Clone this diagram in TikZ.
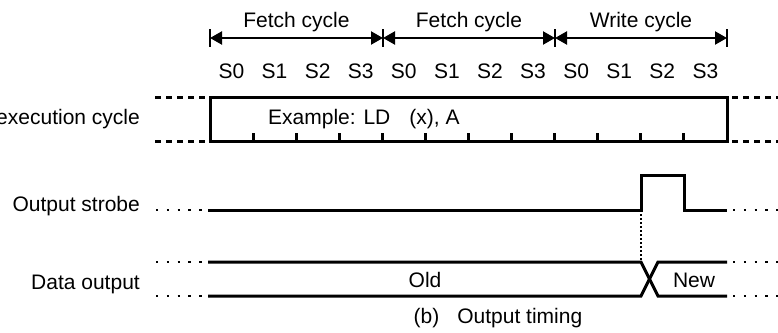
\documentclass[tikz,border=0pt]{standalone}
\usepackage{fontspec}
\setmainfont{Liberation Sans}
\usetikzlibrary{arrows.meta,calc,positioning}
\tikzset{%
	txt/.style      = {inner sep=0pt, font=\fontsize{21}{25}\selectfont}, % Text
	signal/.style   = {line width=3pt}, % Signal line
	bar/.style      = {line width=2.4pt},
	span/.style     = {line width=2.2pt, {Triangle[length=12pt,width=13pt]}-{Triangle[length=12pt,width=13pt]}},
	extend/.style   = {line width=3pt, dash pattern=on 5.5pt off 5.5pt}, % Dashed extension
	dotline/.style  = {line width=2.4pt, dash pattern=on 2.4pt off 8.4pt}, % Dotted extension
	vdot/.style     = {line width=2pt, dash pattern=on 1.6pt off 2.4pt},
}

\begin{document}
\begin{tikzpicture}[x=1pt, y=-1pt]
	\useasboundingbox (0,0) rectangle (778,332);
	% cycle borders
	\coordinate (b0) at (210,38);
	\coordinate (b1) at (383,38);
	\coordinate (b2) at (555,38);
	\coordinate (b3) at (727,38);
	\foreach \b in {b0,b1,b2,b3}
		\draw[bar] ($(\b)+(0,-9)$) -- ($(\b)+(0,9)$);
	\draw[span] (b0) -- node[txt,above=5pt] (fetch1) {Fetch cycle} (b1);
	\draw[span] (b1) -- node[txt,above=5pt] (fetch2) {Fetch cycle} (b2);
	\draw[span] (b2) -- node[txt,above=5pt] (write) {Write cycle} (b3);
	
	% states
	\foreach \n [count=\i from 0] in {S0,S1,S2,S3,S0,S1,S2,S3,S0,S1,S2,S3}
		\node[txt] (s\i) at (231.5+43.08*\i,71) {\n};
	
	% execution cycle
	\node[txt,anchor=east] (exec) at (140,119) {execution cycle};
	\coordinate (et0) at (210,97.5);
	\coordinate (eb0) at (210,141);
	\coordinate (et1) at (727,97.5);
	\coordinate (eb1) at (727,141);
	\draw[signal] (eb0) -- (et0) -- (et1) -- (eb1) -- cycle;
	\foreach \i in {1,...,11}
		\draw[signal] (210+43.08*\i,141) -- ++(0,-8);
	\node[txt,anchor=west] (ex) at (268,119) {Example: LD\hspace{19pt}(x), A};
	\draw[extend] (155,97.5) -- (205,97.5);
	\draw[extend] (155,141) -- (205,141);
	\draw[extend] (732,97.5) -- (778,97.5);
	\draw[extend] (732,141) -- (778,141);
	
	% output strobe
	\node[txt,anchor=east] (strobe) at (140,206) {Output strobe};
	\coordinate (st0) at (208,210);
	\coordinate (rise) at (641,210);
	\coordinate (fall) at (684,210);
	\coordinate (st1) at (727,210);
	\draw[signal] (st0) -- (rise) -- ++(0,-35) -| (fall) -- (st1);
	\draw[dotline] (156,210) -- (203,210);
	\draw[dotline] (733,210) -- (778,210);
	
	% data output
	\node[txt,anchor=east] (data) at (140,284) {Data output};
	\coordinate (dt0) at (208,262);
	\coordinate (db0) at (208,296);
	\coordinate (xt0) at (641,262);
	\coordinate (xb0) at (641,296);
	\coordinate (xt1) at (658,262);
	\coordinate (xb1) at (658,296);
	\coordinate (dt1) at (727,262);
	\coordinate (db1) at (727,296);
	\draw[signal] (dt0) -- (xt0) -- (xb1) -- (db1);
	\draw[signal] (db0) -- (xb0) -- (xt1) -- (dt1);
	\draw[vdot] (rise) -- (xt0);
	\draw[dotline] (156,262) -- (203,262);
	\draw[dotline] (156,296) -- (203,296);
	\draw[dotline] (733,262) -- (778,262);
	\draw[dotline] (733,296) -- (778,296);
	\node[txt] (old) at (425,280) {Old};
	\node[txt] (new) at (694,280) {New};
	
	% caption
	\node[txt] (cap) at (498,318) {(b)\hspace{18pt}Output timing};
\end{tikzpicture}
\end{document}
